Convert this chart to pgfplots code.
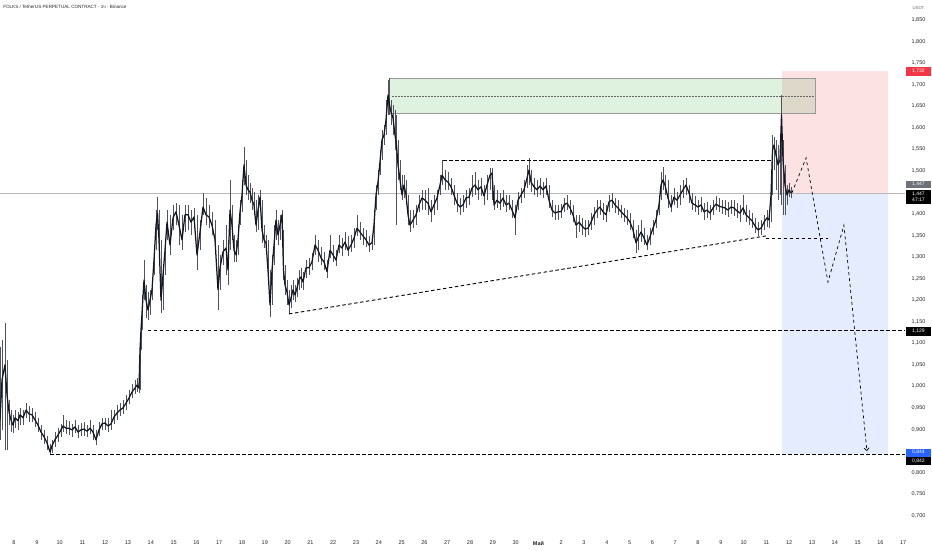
\documentclass[border=0pt]{standalone}
\usepackage{fontspec}
\setmainfont{Liberation Sans}
\usepackage{pgfplots}
\usepackage{pgfplotstable}
\pgfplotsset{compat=1.18}
\usetikzlibrary{arrows.meta}

\definecolor{candle}{RGB}{19,23,34}
\definecolor{wick}{RGB}{80,83,93}
\definecolor{lossfill}{RGB}{253,226,228}
\definecolor{profitfill}{RGB}{228,236,253}
\definecolor{zonegreen}{RGB}{76,175,80}
\definecolor{tvred}{RGB}{242,54,69}
\definecolor{tvblue}{RGB}{41,98,255}
\definecolor{tvgray}{RGB}{110,113,122}

% FOLKS/USDT 1h, sampled: day index (0 = 8 Apr), close, high, low
\pgfplotstableread{
d c h l
-0.614 0.922 1.091 0.876
-0.526 1.015 1.108 0.899
-0.395 1.050 1.147 0.852
-0.307 0.980 1.061 0.852
-0.219 0.941 0.968 0.910
-0.132 0.922 0.945 0.894
-0.044 0.910 0.934 0.892
0.044 0.927 0.945 0.903
0.175 0.920 0.941 0.899
0.263 0.934 0.950 0.910
0.395 0.927 0.945 0.910
0.526 0.945 0.961 0.927
0.658 0.936 0.954 0.917
0.789 0.934 0.950 0.917
0.921 0.922 0.941 0.906
1.053 0.910 0.927 0.894
1.184 0.894 0.910 0.876
1.316 0.883 0.899 0.866
1.447 0.869 0.885 0.852
1.579 0.848 0.866 0.841
1.667 0.862 0.876 0.845
1.798 0.876 0.894 0.859
1.930 0.887 0.903 0.871
2.061 0.899 0.913 0.883
2.149 0.908 0.934 0.894
2.281 0.903 0.922 0.889
2.412 0.903 0.920 0.887
2.544 0.899 0.913 0.883
2.675 0.906 0.922 0.892
2.807 0.894 0.910 0.880
2.939 0.899 0.915 0.885
3.070 0.901 0.917 0.885
3.202 0.896 0.910 0.883
3.333 0.903 0.922 0.889
3.465 0.894 0.910 0.876
3.596 0.876 0.899 0.864
3.728 0.899 0.917 0.885
3.860 0.913 0.927 0.899
3.991 0.915 0.927 0.899
4.123 0.908 0.927 0.894
4.254 0.913 0.945 0.899
4.386 0.929 0.945 0.913
4.518 0.938 0.957 0.922
4.649 0.945 0.961 0.931
4.781 0.950 0.968 0.936
4.912 0.961 0.980 0.945
5.044 0.973 0.992 0.959
5.175 0.987 1.006 0.973
5.307 0.996 1.015 0.982
5.395 1.003 1.019 0.987
5.482 0.996 1.015 0.985
5.526 1.084 1.096 0.992
5.570 1.131 1.154 1.084
5.636 1.189 1.212 1.131
5.702 1.247 1.293 1.200
5.789 1.200 1.235 1.159
5.877 1.177 1.219 1.154
5.965 1.200 1.224 1.166
6.053 1.224 1.247 1.200
6.140 1.293 1.316 1.258
6.228 1.374 1.409 1.316
6.294 1.402 1.439 1.363
6.360 1.340 1.409 1.305
6.447 1.200 1.340 1.170
6.535 1.258 1.282 1.177
6.623 1.316 1.340 1.258
6.711 1.381 1.409 1.340
6.842 1.328 1.398 1.305
6.974 1.391 1.421 1.363
7.105 1.405 1.425 1.374
7.237 1.374 1.421 1.328
7.368 1.340 1.398 1.316
7.500 1.398 1.421 1.358
7.632 1.398 1.421 1.363
7.763 1.381 1.409 1.351
7.895 1.393 1.414 1.367
8.026 1.305 1.398 1.270
8.158 1.358 1.386 1.316
8.289 1.416 1.449 1.398
8.421 1.398 1.437 1.374
8.553 1.393 1.421 1.367
8.684 1.374 1.405 1.351
8.816 1.340 1.386 1.305
8.947 1.224 1.328 1.177
9.035 1.275 1.305 1.224
9.167 1.312 1.340 1.282
9.298 1.321 1.374 1.258
9.386 1.270 1.340 1.235
9.474 1.409 1.479 1.316
9.561 1.374 1.421 1.340
9.649 1.316 1.351 1.289
9.737 1.305 1.340 1.289
9.825 1.340 1.374 1.305
9.912 1.405 1.432 1.374
10.000 1.444 1.479 1.405
10.088 1.514 1.555 1.467
10.175 1.467 1.525 1.444
10.263 1.456 1.490 1.432
10.351 1.451 1.472 1.425
10.439 1.432 1.460 1.409
10.526 1.421 1.451 1.398
10.614 1.374 1.432 1.358
10.702 1.409 1.444 1.363
10.789 1.439 1.456 1.409
10.877 1.363 1.432 1.333
10.965 1.340 1.374 1.321
11.053 1.333 1.351 1.305
11.140 1.270 1.340 1.247
11.228 1.189 1.270 1.161
11.316 1.270 1.305 1.189
11.404 1.328 1.374 1.282
11.491 1.386 1.409 1.340
11.579 1.351 1.386 1.328
11.667 1.374 1.398 1.340
11.754 1.398 1.409 1.351
11.820 1.270 1.363 1.247
11.886 1.235 1.282 1.212
11.974 1.219 1.247 1.189
12.061 1.189 1.224 1.168
12.149 1.205 1.235 1.182
12.237 1.224 1.247 1.200
12.325 1.212 1.235 1.196
12.412 1.228 1.251 1.207
12.500 1.247 1.270 1.224
12.588 1.254 1.275 1.228
12.675 1.242 1.265 1.224
12.807 1.275 1.293 1.251
12.939 1.275 1.298 1.258
13.070 1.289 1.309 1.270
13.202 1.328 1.351 1.305
13.333 1.316 1.340 1.289
13.465 1.298 1.323 1.282
13.596 1.289 1.312 1.270
13.728 1.266 1.293 1.251
13.860 1.316 1.351 1.298
13.991 1.305 1.328 1.289
14.123 1.293 1.316 1.279
14.254 1.328 1.351 1.309
14.386 1.321 1.344 1.302
14.518 1.335 1.358 1.316
14.649 1.316 1.349 1.302
14.781 1.328 1.351 1.312
14.912 1.344 1.367 1.321
15.044 1.367 1.398 1.349
15.175 1.358 1.381 1.340
15.307 1.349 1.367 1.328
15.439 1.340 1.363 1.323
15.570 1.328 1.349 1.312
15.702 1.333 1.351 1.316
15.789 1.374 1.409 1.328
15.877 1.444 1.467 1.409
15.965 1.474 1.502 1.444
16.053 1.521 1.548 1.490
16.140 1.572 1.595 1.525
16.228 1.583 1.606 1.560
16.316 1.618 1.664 1.583
16.404 1.676 1.711 1.630
16.469 1.653 1.715 1.630
16.535 1.637 1.664 1.606
16.623 1.623 1.653 1.583
16.711 1.583 1.641 1.548
16.776 1.560 1.630 1.374
16.842 1.514 1.572 1.479
16.930 1.479 1.525 1.456
17.018 1.444 1.490 1.432
17.105 1.467 1.490 1.437
17.193 1.444 1.479 1.421
17.281 1.398 1.444 1.374
17.368 1.374 1.409 1.358
17.500 1.386 1.409 1.367
17.632 1.398 1.421 1.374
17.763 1.421 1.444 1.405
17.895 1.437 1.456 1.409
18.026 1.432 1.456 1.409
18.158 1.425 1.460 1.398
18.289 1.405 1.432 1.381
18.421 1.421 1.444 1.398
18.553 1.437 1.456 1.409
18.684 1.467 1.490 1.444
18.772 1.490 1.525 1.467
18.904 1.479 1.502 1.456
19.035 1.474 1.497 1.456
19.167 1.463 1.483 1.444
19.298 1.444 1.467 1.421
19.430 1.425 1.449 1.405
19.561 1.416 1.437 1.398
19.693 1.421 1.444 1.405
19.825 1.437 1.456 1.414
19.956 1.439 1.460 1.421
20.088 1.460 1.490 1.439
20.219 1.467 1.497 1.444
20.351 1.456 1.479 1.432
20.482 1.463 1.483 1.442
20.614 1.442 1.467 1.421
20.746 1.467 1.490 1.432
20.877 1.490 1.507 1.456
20.965 1.495 1.507 1.432
21.053 1.421 1.467 1.409
21.184 1.432 1.456 1.414
21.316 1.425 1.449 1.409
21.447 1.437 1.456 1.416
21.579 1.421 1.444 1.405
21.711 1.425 1.444 1.409
21.842 1.409 1.432 1.391
21.974 1.391 1.421 1.351
22.105 1.432 1.451 1.409
22.237 1.444 1.460 1.425
22.368 1.456 1.479 1.437
22.500 1.483 1.514 1.460
22.588 1.502 1.530 1.467
22.675 1.474 1.502 1.451
22.807 1.463 1.483 1.444
22.939 1.456 1.479 1.439
23.070 1.465 1.483 1.444
23.202 1.456 1.474 1.437
23.333 1.465 1.483 1.444
23.465 1.432 1.467 1.414
23.596 1.409 1.432 1.393
23.728 1.402 1.421 1.386
23.860 1.405 1.421 1.386
23.991 1.405 1.423 1.391
24.123 1.421 1.437 1.405
24.254 1.425 1.444 1.409
24.386 1.414 1.432 1.398
24.518 1.398 1.421 1.381
24.649 1.374 1.398 1.344
24.781 1.381 1.398 1.358
24.912 1.372 1.391 1.351
25.044 1.365 1.386 1.347
25.175 1.367 1.386 1.351
25.307 1.381 1.402 1.363
25.439 1.398 1.416 1.374
25.570 1.409 1.432 1.391
25.702 1.416 1.432 1.398
25.833 1.405 1.425 1.386
25.965 1.398 1.421 1.381
26.096 1.428 1.444 1.405
26.228 1.432 1.449 1.414
26.360 1.421 1.437 1.402
26.491 1.414 1.432 1.398
26.623 1.405 1.421 1.391
26.754 1.398 1.414 1.381
26.886 1.391 1.409 1.374
27.018 1.381 1.402 1.363
27.149 1.363 1.386 1.344
27.281 1.333 1.363 1.309
27.368 1.344 1.374 1.316
27.500 1.358 1.386 1.335
27.632 1.344 1.367 1.328
27.763 1.328 1.351 1.316
27.895 1.347 1.367 1.328
28.026 1.367 1.386 1.351
28.158 1.386 1.409 1.367
28.289 1.421 1.444 1.398
28.377 1.467 1.497 1.432
28.465 1.479 1.509 1.456
28.553 1.467 1.490 1.444
28.684 1.437 1.479 1.414
28.816 1.416 1.444 1.405
28.947 1.439 1.460 1.421
29.079 1.432 1.451 1.414
29.211 1.444 1.467 1.421
29.342 1.456 1.479 1.437
29.474 1.467 1.483 1.444
29.605 1.449 1.467 1.425
29.737 1.425 1.449 1.409
29.868 1.421 1.442 1.405
30.000 1.416 1.432 1.398
30.132 1.421 1.439 1.405
30.263 1.405 1.425 1.386
30.395 1.409 1.428 1.391
30.526 1.402 1.421 1.386
30.658 1.414 1.432 1.398
30.789 1.423 1.442 1.409
30.921 1.418 1.437 1.405
31.053 1.416 1.432 1.400
31.184 1.414 1.432 1.398
31.316 1.409 1.428 1.393
31.447 1.416 1.432 1.400
31.579 1.414 1.432 1.395
31.711 1.407 1.425 1.391
31.842 1.402 1.421 1.381
31.974 1.414 1.444 1.398
32.105 1.398 1.421 1.381
32.237 1.391 1.409 1.374
32.368 1.384 1.402 1.367
32.500 1.372 1.391 1.356
32.632 1.363 1.381 1.349
32.763 1.367 1.386 1.351
32.895 1.381 1.398 1.363
33.026 1.391 1.409 1.370
33.114 1.386 1.405 1.367
33.202 1.444 1.479 1.381
33.268 1.548 1.583 1.444
33.333 1.560 1.579 1.502
33.421 1.537 1.572 1.456
33.509 1.514 1.560 1.432
33.596 1.525 1.572 1.444
33.662 1.630 1.676 1.421
33.728 1.525 1.572 1.398
33.816 1.467 1.514 1.398
33.904 1.444 1.467 1.421
33.991 1.456 1.472 1.439
34.079 1.449 1.463 1.437
}\pricedata

\newcommand\tagfont{\fontsize{5}{5.6}\selectfont}

\begin{document}
\begin{tikzpicture}
\useasboundingbox (0pt,-23pt) rectangle (932pt,527pt);
\begin{axis}[
    at={(0pt,0pt)}, anchor=south west, scale only axis,
    width=905pt, height=527pt,
    xmin=-0.614, xmax=39.079, ymin=0.6737, ymax=1.8964,
    clip=false,
    axis line style={draw=none},
    major tick length=0pt,
    font=\fontsize{5.5}{6}\selectfont,
    /pgf/number format/assume math mode=true,
    xtick={0,...,39},
    xticklabels={8,9,10,11,12,13,14,15,16,17,18,19,20,21,22,23,24,25,26,27,28,29,30,\textbf{Май},2,3,4,5,6,7,8,9,10,11,12,13,14,15,16,17},
    xticklabel style={anchor=center, yshift=-16pt, text=black!85},
    % 1,450 and 0,850 sit under the price tags
    ytick={0.70,0.75,0.80,0.90,0.95,1.00,1.05,1.10,1.15,1.20,1.25,1.30,1.35,1.40,1.50,1.55,1.60,1.65,1.70,1.75,1.80,1.85},
    yticklabel pos=right,
    yticklabel style={anchor=center, xshift=13.5pt, text=black!85,
        /pgf/number format/.cd, fixed, fixed zerofill, precision=3, use comma},
]
% position tool (short): loss and profit zones
\addplot[draw=none, fill=lossfill, mark=none] coordinates {(33.684,1.447) (38.333,1.447) (38.333,1.732) (33.684,1.732)} -- cycle;
\addplot[draw=none, fill=profitfill, mark=none] coordinates {(33.684,0.844) (38.333,0.844) (38.333,1.447) (33.684,1.447)} -- cycle;
% supply zone
\addplot[draw=black!40, line width=0.5pt, fill=zonegreen, fill opacity=0.18, mark=none] coordinates {(16.447,1.634) (35.132,1.634) (35.132,1.715) (16.447,1.715)} -- cycle;
\addplot[black!60, line width=0.5pt, mark=none, dash pattern=on 1.5pt off 1.5pt] coordinates {(16.58,1.674) (35.132,1.674)};
% last price line
\addplot[black!28, line width=0.5pt, mark=none] coordinates {(-0.614,1.447) (39.079,1.447)};

% candles: wicks and closes
\addplot[draw=none, mark=none,
    error bars/.cd, y dir=both, y explicit, error mark=none,
    error bar style={draw=wick, solid, line width=0.7pt}]
    table[x=d, y=c, y error plus expr=\thisrow{h}-\thisrow{c}, y error minus expr=\thisrow{c}-\thisrow{l}] {\pricedata};
\addplot[candle, mark=none, line width=1.25pt, line join=round] table[x=d, y=c] {\pricedata};

% levels and trend line
\addplot[black, mark=none, line width=0.9pt, dash pattern=on 3.5pt off 2.5pt] coordinates {(5.877,1.129) (39.079,1.129)};
\addplot[black, mark=none, line width=0.9pt, dash pattern=on 3.5pt off 2.5pt] coordinates {(1.579,0.842) (39.079,0.842)};
\addplot[black, mark=none, line width=0.9pt, dash pattern=on 3.5pt off 2.5pt] coordinates {(18.816,1.525) (33.289,1.525)};
\addplot[black, mark=none, line width=0.9pt, dash pattern=on 3.5pt off 2.5pt] coordinates {(32.982,1.344) (35.702,1.344)};
\addplot[black, mark=none, line width=0.9pt, dash pattern=on 3.5pt off 2.5pt] coordinates {(12.06,1.168) (32.98,1.349)};
% projected path
\addplot[black, mark=none, line width=0.7pt, dash pattern=on 3pt off 3pt, -{Straight Barb[length=2.5pt,width=5pt]}]
    coordinates {(34.12,1.449) (34.74,1.530) (35.70,1.242) (36.40,1.374) (37.41,0.850)};

% header and price-scale tags
\node[anchor=west, inner sep=0pt, font=\fontsize{4.6}{5}\selectfont, text=black!85] at (axis cs:-0.48,1.880) {FOLKS / TetherUS PERPETUAL CONTRACT · 1ч · Binance};
\node[inner sep=0pt, font=\fontsize{4.3}{5}\selectfont, text=black!60] at (axis cs:39.67,1.878) {USDT};
\node[fill=tvred, text=white, inner sep=0pt, minimum width=25pt, minimum height=8.5pt, font=\tagfont] at (axis cs:39.67,1.7305) {1,732};
\node[fill=tvgray, text=white, inner sep=0pt, minimum width=25pt, minimum height=6.5pt, font=\tagfont] at (axis cs:39.67,1.4684) {1,447};
\node[fill=black, text=white, inner sep=0pt, minimum width=25pt, minimum height=14pt, align=center, font=\tagfont] at (axis cs:39.67,1.4393) {1,447\\47:17};
\node[fill=black, text=white, inner sep=0pt, minimum width=25pt, minimum height=9pt, font=\tagfont] at (axis cs:39.67,1.1284) {1,129};
\node[fill=tvblue, text=white, inner sep=0pt, minimum width=25pt, minimum height=8pt, font=\tagfont] at (axis cs:39.67,0.8465) {0,844};
\node[fill=black, text=white, inner sep=0pt, minimum width=25pt, minimum height=8pt, font=\tagfont] at (axis cs:39.67,0.8268) {0,842};
\end{axis}
\end{tikzpicture}
\end{document}
